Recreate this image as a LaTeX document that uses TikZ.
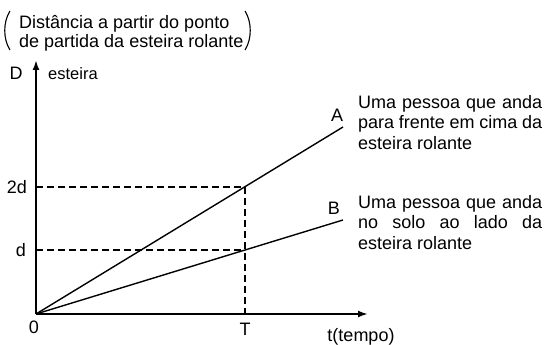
\documentclass[tikz,border=0pt]{standalone}
\usepackage{fontspec}
\setmainfont{Liberation Sans}
\usetikzlibrary{arrows.meta,positioning}
\hyphenpenalty=10000
\exhyphenpenalty=10000

\begin{document}
\begin{tikzpicture}[x=1pt, y=-1pt,
            axis/.style={line width=2pt, -{Latex[length=10pt,width=7pt]}},
            curve/.style={line width=1.4pt},
            guide/.style={line width=1.3pt, dash pattern=on 7pt off 4pt},
            lbl/.style={font=\fontsize{18}{18.5}\selectfont, inner sep=0pt},
            note/.style={font=\fontsize{18}{20.5}\selectfont, inner sep=0pt, text width=184pt, align=justify, anchor=north west}
        ]
            \useasboundingbox (0,0) rectangle (544,345);

            % Points
            \coordinate (O) at (36,314);
            \coordinate (ytop) at (36,60);
            \coordinate (xend) at (368,314);
            \coordinate (y2d) at (36,187);
            \coordinate (yd) at (36,250);
            \coordinate (P2d) at (245,187);
            \coordinate (Pd) at (245,250);
            \coordinate (xT) at (245,314);
            \coordinate (Aend) at (343,127);
            \coordinate (Bend) at (343,220);

            % Axes
            \draw[axis] (O) -- (ytop);
            \draw[axis] (O) -- (xend);

            % Guides
            \draw[guide] (y2d) -- (P2d) -- (xT);
            \draw[guide] (yd) -- (Pd);

            % Lines A and B
            \draw[curve] (O) -- (Aend);
            \draw[curve] (O) -- (Bend);

            % Axis labels
            \node[lbl] (lD) at (16,73) {D};
            \node[lbl, anchor=base west, font=\fontsize{16.5}{17}\selectfont] (lest) at (48,80) {esteira};
            \node[lbl, anchor=east] (l2d) at (27,187) {2d};
            \node[lbl] (ld) at (21,250) {d};
            \node[lbl] (l0) at (34,327) {0};
            \node[lbl] (lT) at (245,329) {T};
            \node[lbl] (lt) at (361,337) {t(tempo)};
            \node[lbl] (lA) at (337,115) {A};
            \node[lbl] (lB) at (334,208) {B};

            % Descriptions
            \node[note] (nA) at (358,95) {Uma pessoa que anda para frente em cima da esteira rolante};
            \node[note] (nB) at (358,195) {Uma pessoa que anda no solo ao lado da esteira rolante};

            % Header
            \node[lbl, anchor=south west, align=left] (hdr) at (19,51) {Distância a partir do ponto\\de partida da esteira rolante};
            \draw[line width=1.1pt] (10,11) .. controls (3,22) and (3,39) .. (10,50);
            \draw[line width=1.1pt] (245,11) .. controls (252,22) and (252,39) .. (245,50);
        \end{tikzpicture}
\end{document}
